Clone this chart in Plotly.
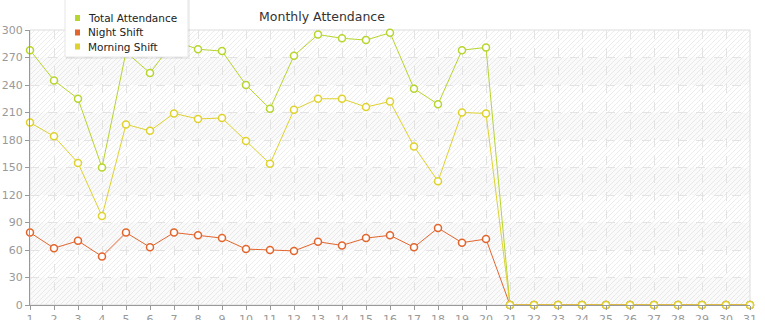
import base64
import plotly.graph_objects as go

days = list(range(1, 32))
total = [278, 245, 225, 150, 276, 253, 288, 279, 277, 240, 214, 272, 295, 291, 289, 297, 236, 219, 278, 281] + [0] * 11
night = [79, 62, 70, 53, 79, 63, 79, 76, 73, 61, 60, 59, 69, 65, 73, 76, 63, 84, 68, 72] + [0] * 11
morning = [199, 184, 155, 97, 197, 190, 209, 203, 204, 179, 154, 213, 225, 225, 216, 222, 173, 135, 210, 209] + [0] * 11

series_names = ["Total Attendance", "Night Shift", "Morning Shift"]
series_values = [total, night, morning]
series_colors = ["#b6d52e", "#e2652e", "#dfd22e"]

y_ticks = list(range(0, 301, 30))

# pixel geometry of plot area
L, R, T, B, W, H = 30, 15, 30, 15, 765, 320
PW, PH = W - L - R, H - T - B


def px(xpix):
    return (xpix - L) / PW


def py(ypix):
    return (H - B - ypix) / PH


fig = go.Figure()
for name, vals, col in zip(series_names, series_values, series_colors):
    fig.add_trace(go.Scatter(
        x=days, y=vals, name=name, mode="lines+markers",
        line=dict(color=col, width=1),
        marker=dict(symbol="circle", size=7, color="white", line=dict(color=col, width=1.5)),
        cliponaxis=False, showlegend=False,
    ))

# hatch background image
svg = ('<svg xmlns="http://www.w3.org/2000/svg" width="720" height="275">'
       '<defs><pattern id="p" patternUnits="userSpaceOnUse" width="5" height="5">'
       '<path d="M-1,1 L1,-1 M0,5 L5,0 M4,6 L6,4" stroke="#ededed" stroke-width="1"/>'
       '</pattern></defs><rect width="720" height="275" fill="white"/>'
       '<rect width="720" height="275" fill="url(#p)"/></svg>')
src = "data:image/svg+xml;base64," + base64.b64encode(svg.encode()).decode()

shapes = []
for i in range(0, 300, 60):
    shapes.append(dict(type="rect", xref="paper", yref="y", x0=0, x1=1, y0=i, y1=i + 30,
                       fillcolor="rgba(200,200,200,0.09)", line=dict(width=0), layer="below"))
shapes.append(dict(type="rect", xref="paper", yref="paper", x0=0, x1=1, y0=0, y1=1,
                   line=dict(color="#dddddd", width=1), fillcolor="rgba(0,0,0,0)", layer="below"))

# legend box (drawn manually for compact spacing)
shapes.append(dict(type="rect", xref="paper", yref="paper", x0=px(66), x1=px(190), y0=py(59), y1=py(-5),
                   line=dict(width=0), fillcolor="rgba(0,0,0,0.06)", layer="above"))
shapes.append(dict(type="rect", xref="paper", yref="paper", x0=px(65), x1=px(188), y0=py(57), y1=py(-5),
                   line=dict(color="#e6e6e6", width=1), fillcolor="white", layer="above"))
annotations = []
legend_y = [18, 32.5, 46.5]
for name, col, ly in zip(series_names, series_colors, legend_y):
    shapes.append(dict(type="rect", xref="paper", yref="paper", x0=px(75), x1=px(80), y0=py(ly + 3), y1=py(ly - 3),
                       line=dict(width=0), fillcolor=col, layer="above"))
    annotations.append(dict(text=name, xref="paper", yref="paper", x=px(86), y=py(ly), xanchor="left",
                            yanchor="middle", showarrow=False,
                            font=dict(family="DejaVu Sans", size=10.5, color="#222222")))

fig.update_layout(
    width=W, height=H,
    margin=dict(l=L, r=R, t=T, b=B, autoexpand=False),
    paper_bgcolor="white", plot_bgcolor="white",
    font=dict(family="DejaVu Sans", size=11, color="#999999"),
    title=dict(text="Monthly Attendance", x=322 / W, xanchor="center", y=1 - 17 / H, yanchor="middle",
               font=dict(family="DejaVu Sans", size=12.5, color="#333333"), automargin=False),
    images=[dict(source=src, xref="paper", yref="paper", x=0, y=1, sizex=1, sizey=1,
                 xanchor="left", yanchor="top", sizing="stretch", layer="below")],
    shapes=shapes,
    annotations=annotations,
    showlegend=False,
    xaxis=dict(range=[1, 31], tickmode="array", tickvals=days, ticktext=[str(d) for d in days],
               showgrid=True, gridcolor="#e3e3e3", griddash="dash", gridwidth=1,
               showline=True, linecolor="#999999", linewidth=1, automargin=False,
               ticks="outside", ticklen=4, tickcolor="#999999", zeroline=False, fixedrange=True),
    yaxis=dict(range=[0, 300], tickmode="array", tickvals=y_ticks, automargin=False,
               showgrid=True, gridcolor="#e3e3e3", griddash="dash", gridwidth=1,
               showline=True, linecolor="#999999", linewidth=1,
               ticks="outside", ticklen=4, tickcolor="#999999", zeroline=False, fixedrange=True),
)

fig.write_html("out.html")
